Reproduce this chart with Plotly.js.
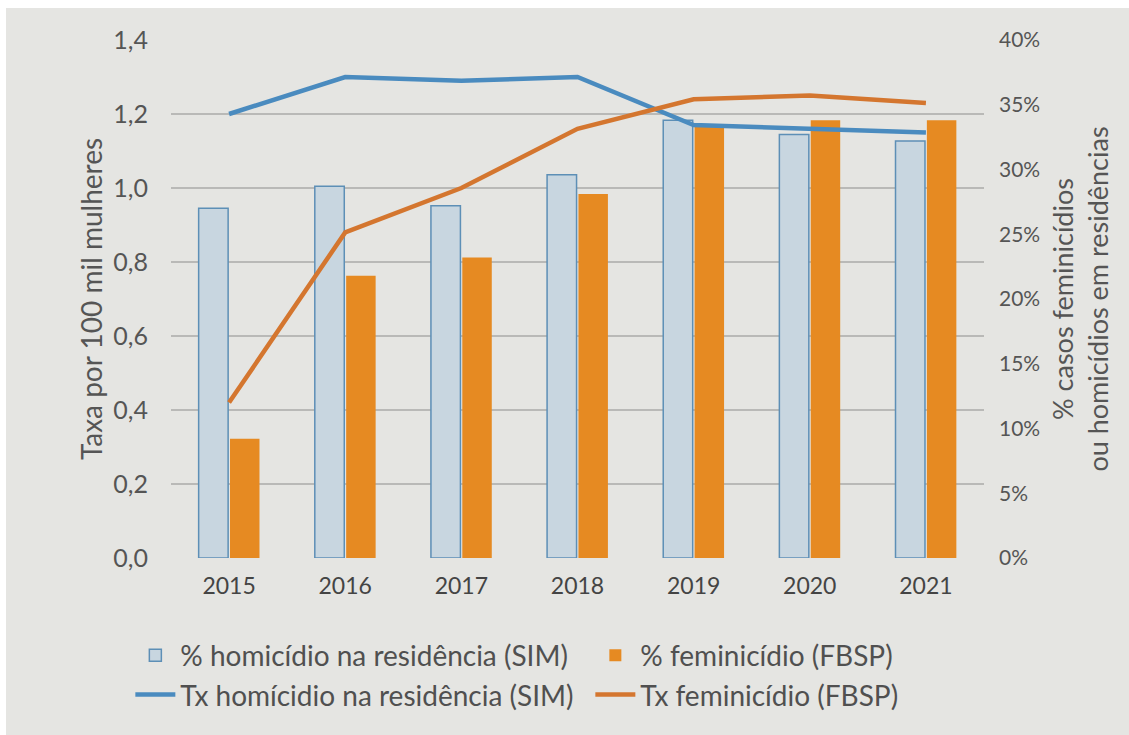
<!DOCTYPE html>
<html><head><meta charset="utf-8">
<script src="https://cdn.plot.ly/plotly-3.0.1.min.js"></script>
<style>html,body{margin:0;padding:0;background:#fff;overflow:hidden;} #chart{position:absolute;left:6px;top:8px;width:1123px;height:727px;}</style>
</head><body><div id="chart"></div>
<script>
const years = ['2015','2016','2017','2018','2019','2020','2021'];
const pctHomicidioSIM = [27.0, 28.7, 27.2, 29.6, 33.8, 32.7, 32.2];
const pctFeminicidioFBSP = [9.2, 21.8, 23.2, 28.1, 33.3, 33.8, 33.8];
const txHomicidioSIM = [1.20, 1.30, 1.29, 1.30, 1.17, 1.16, 1.15];
const txFeminicidioFBSP = [0.42, 0.88, 1.00, 1.16, 1.24, 1.25, 1.23];
const names = ['% homicídio na residência (SIM)', '% feminicídio (FBSP)', 'Tx homícidio na residência (SIM)', 'Tx feminicídio (FBSP)'];

const FONT = 'Lato, "Open Sans", sans-serif';
const traces = [
  {type:'bar', x:years, y:pctHomicidioSIM, name:names[0], yaxis:'y',
   marker:{color:'#c8d6e0', line:{color:'#5d8fb6', width:1.5}}},
  {type:'bar', x:years, y:pctFeminicidioFBSP, name:names[1], yaxis:'y',
   marker:{color:'#e68a22', line:{width:0}}},
  {type:'scatter', mode:'lines', x:years, y:txHomicidioSIM, name:names[2], yaxis:'y2',
   line:{color:'#4a8bbf', width:4.5}},
  {type:'scatter', mode:'lines', x:years, y:txFeminicidioFBSP, name:names[3], yaxis:'y2',
   line:{color:'#d4762f', width:4.5}}
];
const layout = {
  width:1123, height:727,
  paper_bgcolor:'#e5e5e2', plot_bgcolor:'#e5e5e2',
  font:{family:FONT, color:'#555555', size:20},
  separators:', ',
  margin:{l:165, r:145, t:32, b:177},
  barmode:'group', bargap:0.46, bargroupgap:0.06,
  showlegend:true,
  legend:{orientation:'h', x:-0.05, xanchor:'left', y:-0.14, yanchor:'top',
    font:{family:FONT, size:28, color:'#505050'}, entrywidth:405, entrywidthmode:'pixels',
    traceorder:'normal', bgcolor:'rgba(0,0,0,0)', tracegroupgap:0, itemwidth:40},
  xaxis:{type:'category', showgrid:false, showline:false, zeroline:false, ticks:'',
    tickfont:{size:23, color:'#444'}, ticklabelstandoff:12},
  yaxis:{side:'right', range:[0,40], dtick:5, ticksuffix:'%', showgrid:false, zeroline:false,
    tickfont:{size:21, color:'#555'}, ticklabelstandoff:14,
    title:{text:'% casos feminicídios<br>ou homicídios em residências', font:{size:27, color:'#555'}, standoff:14}},
  yaxis2:{overlaying:'y', side:'left', range:[0,1.4], dtick:0.2, tickformat:'.1f',
    showgrid:true, gridcolor:'#b9b9b7', gridwidth:1.5, zeroline:false,
    tickfont:{size:25, color:'#555'}, ticklabelstandoff:22,
    title:{text:'Taxa por 100 mil mulheres', font:{size:28, color:'#555'}, standoff:2}}
};
Plotly.newPlot('chart', traces, layout, {displayModeBar:false, staticPlot:true});
</script></body></html>
